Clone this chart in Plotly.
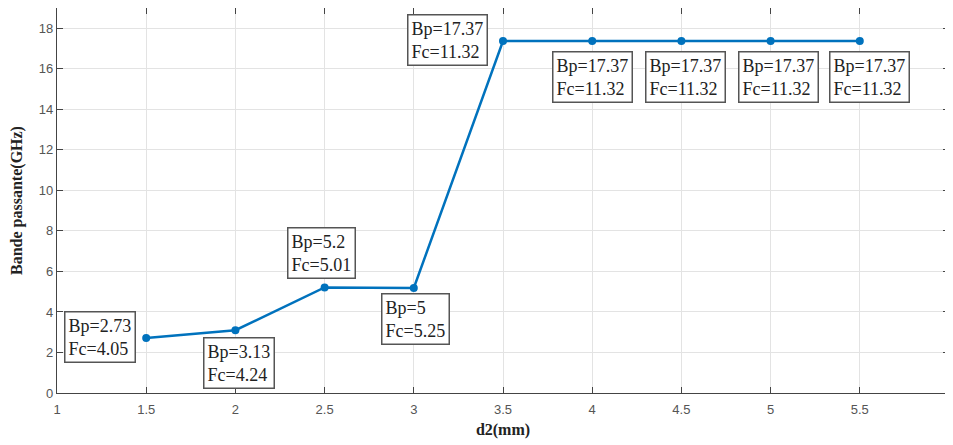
import plotly.graph_objects as go

d2 = [1.5, 2, 2.5, 3, 3.5, 4, 4.5, 5, 5.5]
bp = [2.71, 3.1, 5.21, 5.18, 17.37, 17.37, 17.37, 17.37, 17.37]
bp_txt = ["2.73", "3.13", "5.2", "5", "17.37", "17.37", "17.37", "17.37", "17.37"]
fc_txt = ["4.05", "4.24", "5.01", "5.25", "11.32", "11.32", "11.32", "11.32", "11.32"]

# label offsets in pixels (style)
shifts = [(-46, 1), (4, -33), (-3, 34), (2, -31), (-56, 1), (0, -36), (4, -36), (8, -36), (10, -36)]

fig = go.Figure()
fig.add_trace(go.Scatter(
    x=d2, y=bp, mode="lines+markers",
    line=dict(color="#0072BD", width=2.5),
    marker=dict(color="#0072BD", size=8),
    showlegend=False, hoverinfo="skip"))

for x, y, b, f, (dx, dy) in zip(d2, bp, bp_txt, fc_txt, shifts):
    fig.add_annotation(
        x=x, y=y, xref="x", yref="y",
        text=f"Bp={b}<br>Fc={f}", showarrow=False, align="left",
        xshift=dx, yshift=dy,
        font=dict(family="Liberation Serif", size=18, color="#222222"),
        bgcolor="white", bordercolor="#555555", borderwidth=1.5, borderpad=3)

axis_common = dict(
    showline=True, linecolor="#444444", linewidth=1.2, mirror="allticks",
    ticks="inside", ticklen=6, tickcolor="#444444", automargin=False,
    ticklabeloverflow="allow",
    showgrid=True, gridcolor="#e3e3e3", gridwidth=1, zeroline=False,
    tickfont=dict(family="Liberation Sans", size=13, color="#555555"))

fig.update_xaxes(range=[1, 6], dtick=0.5, tick0=1, ticklabelstandoff=4,
                 title=dict(text="<b>d2(mm)</b>", standoff=8,
                            font=dict(family="Liberation Serif", size=16, color="#222222")),
                 **axis_common)
fig.update_yaxes(range=[0, 19], dtick=2, tick0=0,
                 title=dict(text="<b>Bande passante(GHz)</b>", standoff=12,
                            font=dict(family="Liberation Serif", size=16, color="#222222")),
                 **axis_common)

fig.update_layout(
    width=949, height=437,
    margin=dict(l=49, r=8, t=0, b=52),
    plot_bgcolor="white", paper_bgcolor="white")

fig.write_html("out.html")
